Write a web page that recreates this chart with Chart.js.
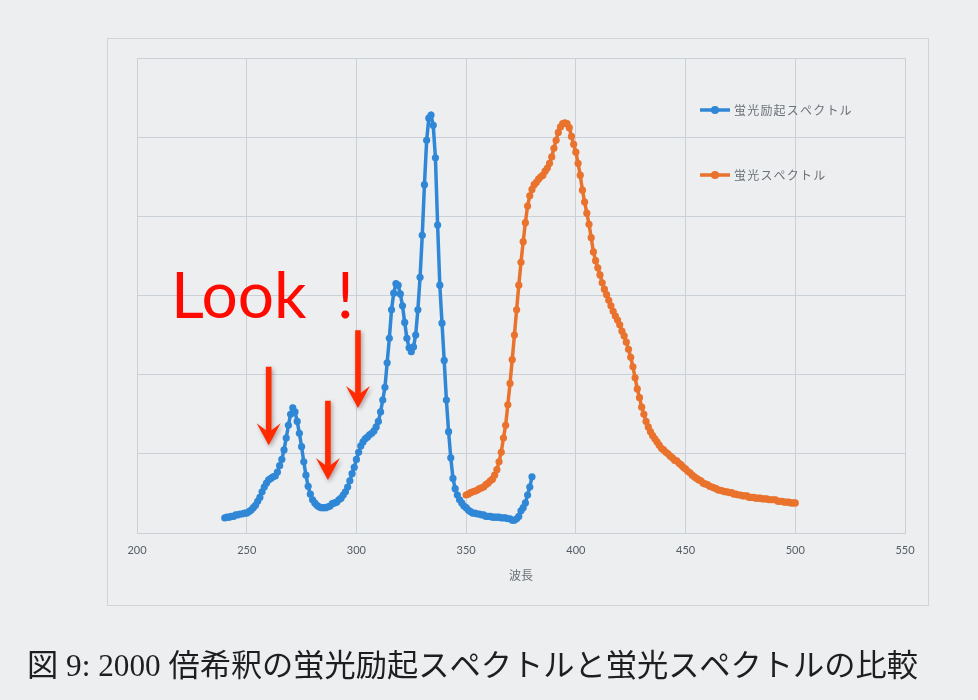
<!DOCTYPE html>
<html lang="ja">
<head>
<meta charset="utf-8">
<title>蛍光励起スペクトルと蛍光スペクトルの比較</title>
<script src="https://cdn.jsdelivr.net/npm/chart.js@4.4.1/dist/chart.umd.min.js"></script>
<style>
  html, body { margin: 0; padding: 0; background: #eceef0; }
  #wrap { width: 978px; height: 700px; position: relative; }
</style>
</head>
<body>
<div id="wrap"><canvas id="c" width="978" height="700"></canvas></div>
<script>
// Wavelength axis (nm)
const xTicks = [200, 250, 300, 350, 400, 450, 500, 550];

// Excitation spectrum: 240–380 nm, 1 nm step
const excitationStart = 240;
const excitation = [
  19, 20, 20, 21, 21, 23, 23, 24, 24, 25,          // 240-249
  25, 27, 29, 32, 35, 40, 45, 52, 58, 63,          // 250-259
  67, 69, 71, 72, 77, 85, 93, 105, 120, 136,       // 260-269
  150, 158, 153, 141, 126, 109, 90, 73, 59, 49,    // 270-279
  42, 38, 35, 33, 32, 32, 32, 33, 34, 37,          // 280-289
  38, 39, 42, 44, 48, 52, 58, 66, 75, 83,          // 290-299
  93, 102, 110, 115, 119, 121, 124, 126, 129, 134, // 300-309
  141, 153, 168, 184, 215, 246, 282, 303, 315, 313,// 310-319
  302, 287, 266, 246, 234, 229, 235, 250, 282, 323,// 320-329
  376, 440, 496, 524, 528, 515, 474, 389, 313, 265,// 330-339
  218, 168, 128, 95, 69, 56, 48, 42, 38, 34,       // 340-349
  32, 29, 27, 25, 25, 24, 24, 23, 23, 21,          // 350-359
  21, 21, 20, 20, 20, 20, 19, 19, 19, 18,          // 360-369
  18, 16, 16, 18, 21, 28, 32, 38, 48, 58,          // 370-379
  71                                               // 380
];

// Emission spectrum: 350–500 nm, 1 nm step
const emissionStart = 350;
const emission = [
  48, 49, 51, 52, 53, 54, 56, 57, 58, 61,          // 350-359
  63, 66, 68, 73, 80, 90, 102, 120, 136, 162,      // 360-369
  189, 219, 250, 282, 313, 342, 368, 392, 413, 426,// 370-379
  434, 440, 443, 447, 450, 452, 457, 461, 467, 475,// 380-389
  486, 496, 506, 513, 517, 518, 517, 512, 501, 491,// 390-399
  481, 467, 452, 433, 418, 404, 390, 373, 355, 344,// 400-409
  335, 326, 316, 308, 301, 294, 287, 280, 274, 269,// 410-419
  263, 255, 249, 241, 232, 222, 210, 196, 182, 171,// 420-429
  159, 150, 141, 134, 128, 123, 119, 115, 111, 107,// 430-439
  105, 102, 100, 97, 95, 92, 91, 88, 86, 83,       // 440-449
  81, 78, 76, 73, 71, 69, 67, 66, 63, 62,          // 450-459
  61, 59, 58, 57, 56, 54, 54, 53, 52, 52,          // 460-469
  51, 51, 49, 49, 48, 48, 47, 47, 47, 45,          // 470-479
  45, 45, 44, 44, 44, 43, 43, 43, 42, 42,          // 480-489
  42, 42, 40, 40, 40, 39, 39, 39, 38, 38,          // 490-499
  38                                               // 500
];

const seriesNames = ['蛍光励起スペクトル', '蛍光スペクトル'];
const seriesColors = ['#2f87d6', '#e9722d'];

// Annotation arrows: [wavelength, tail intensity, tip intensity]
const arrows = [
  [260, 210, 111],
  [287, 167, 67],
  [300.7, 256, 158]
];
const noteWords = ['Look', '!'];
const notePos = [215.5, 272];

const caption = '図 9: 2000 倍希釈の蛍光励起スペクトルと蛍光スペクトルの比較';
const xTitle = '波長';

function toPoints(start, values) {
  return values.map((v, i) => ({ x: start + i, y: v }));
}

// Page frame, background and caption
const pagePlugin = {
  id: 'page',
  beforeDraw(chart) {
    const ctx = chart.ctx;
    ctx.save();
    ctx.fillStyle = '#eceef0';
    ctx.fillRect(0, 0, chart.width, chart.height);
    ctx.strokeStyle = '#cfd4d9';
    ctx.lineWidth = 1;
    ctx.strokeRect(107.5, 38.5, 821, 567);
    ctx.restore();
  },
  afterDraw(chart) {
    const ctx = chart.ctx;
    ctx.save();
    ctx.fillStyle = '#1e1e1e';
    ctx.textBaseline = 'middle';
    ctx.textAlign = 'left';
    ctx.font = '31px "Liberation Serif", "Noto Sans CJK JP", serif';
    const w = ctx.measureText(caption).width;
    const target = 891;
    ctx.translate(27, 668);
    ctx.scale(target / w, 1);
    ctx.fillText(caption, 0, 0);
    ctx.restore();
  }
};

// Legend drawn inside the plot area
const innerLegend = {
  id: 'innerLegend',
  afterDatasetsDraw(chart) {
    const ctx = chart.ctx;
    const ys = [110, 175];
    ctx.save();
    chart.data.datasets.forEach((ds, i) => {
      const y = ys[i];
      ctx.strokeStyle = ds.borderColor;
      ctx.lineWidth = 3.5;
      ctx.beginPath();
      ctx.moveTo(700, y);
      ctx.lineTo(730, y);
      ctx.stroke();
      ctx.fillStyle = ds.borderColor;
      ctx.beginPath();
      ctx.arc(715, y, 4, 0, Math.PI * 2);
      ctx.fill();
      ctx.fillStyle = '#6b7178';
      ctx.font = '12px "Noto Sans CJK JP", sans-serif';
      ctx.letterSpacing = '1.2px';
      ctx.textBaseline = 'middle';
      ctx.fillText(ds.label, 734, y);
    });
    ctx.restore();
  }
};

// Red "Look !" note with arrows
const notes = {
  id: 'notes',
  afterDatasetsDraw(chart) {
    const ctx = chart.ctx;
    const xs = chart.scales.x, ysc = chart.scales.y;
    ctx.save();
    ctx.fillStyle = '#ff0a00';
    ctx.font = '64px Lato, "Open Sans", sans-serif';
    ctx.textBaseline = 'alphabetic';
    const nx = xs.getPixelForValue(notePos[0]);
    const ny = ysc.getPixelForValue(notePos[1]);
    ctx.fillText(noteWords[0], nx, ny);
    const gap = ctx.measureText(noteWords[0]).width + 30;
    ctx.fillText(noteWords[1], nx + gap, ny);

    ctx.shadowColor = 'rgba(60,0,0,0.35)';
    ctx.shadowBlur = 4;
    ctx.shadowOffsetX = 1.5;
    ctx.shadowOffsetY = 2;
    ctx.fillStyle = '#ff2a00';
    arrows.forEach(([wl, tail, tip]) => {
      const x = xs.getPixelForValue(wl);
      const y0 = ysc.getPixelForValue(tail);
      const y1 = ysc.getPixelForValue(tip);
      const shaft = 2.8, head = 12, headH = 22;
      ctx.beginPath();
      ctx.moveTo(x - shaft, y0);
      ctx.lineTo(x + shaft, y0);
      ctx.lineTo(x + shaft, y1 - headH + 7);
      ctx.lineTo(x + head, y1 - headH);
      ctx.lineTo(x, y1);
      ctx.lineTo(x - head, y1 - headH);
      ctx.lineTo(x - shaft, y1 - headH + 7);
      ctx.closePath();
      ctx.fill();
    });
    ctx.restore();
  }
};

const gridColor = '#c9d0d7';

new Chart(document.getElementById('c'), {
  type: 'line',
  data: {
    datasets: [
      {
        label: seriesNames[0],
        data: toPoints(excitationStart, excitation),
        borderColor: seriesColors[0],
        backgroundColor: seriesColors[0],
        borderWidth: 3.5,
        pointRadius: 3.6,
        pointBorderWidth: 0,
        tension: 0
      },
      {
        label: seriesNames[1],
        data: toPoints(emissionStart, emission),
        borderColor: seriesColors[1],
        backgroundColor: seriesColors[1],
        borderWidth: 3.5,
        pointRadius: 3.6,
        pointBorderWidth: 0,
        tension: 0
      }
    ]
  },
  options: {
    responsive: false,
    animation: false,
    devicePixelRatio: 1,
    layout: { padding: { left: 137, right: 73, top: 58, bottom: 117 } },
    plugins: {
      legend: { display: false },
      tooltip: { enabled: false }
    },
    scales: {
      x: {
        type: 'linear',
        min: xTicks[0],
        max: xTicks[xTicks.length - 1],
        afterBuildTicks(scale) { scale.ticks = xTicks.map(v => ({ value: v })); },
        afterFit(scale) { scale.height = 50; },
        grid: { color: gridColor, drawTicks: false, lineWidth: 1 },
        border: { color: gridColor },
        ticks: {
          padding: 11,
          color: '#545c65',
          font: { family: 'Lato, "Open Sans", sans-serif', size: 11 }
        },
        title: {
          display: true,
          text: xTitle,
          color: '#6b7178',
          padding: { top: 0, bottom: 0 },
          font: { family: '"Noto Sans CJK JP", sans-serif', size: 12 }
        }
      },
      y: {
        min: 0,
        max: 600,
        ticks: { display: false, stepSize: 100 },
        afterFit(scale) { scale.width = 0; },
        grid: { color: gridColor, drawTicks: false, lineWidth: 1 },
        border: { color: gridColor }
      }
    }
  },
  plugins: [pagePlugin, innerLegend, notes]
});
</script>
</body>
</html>
